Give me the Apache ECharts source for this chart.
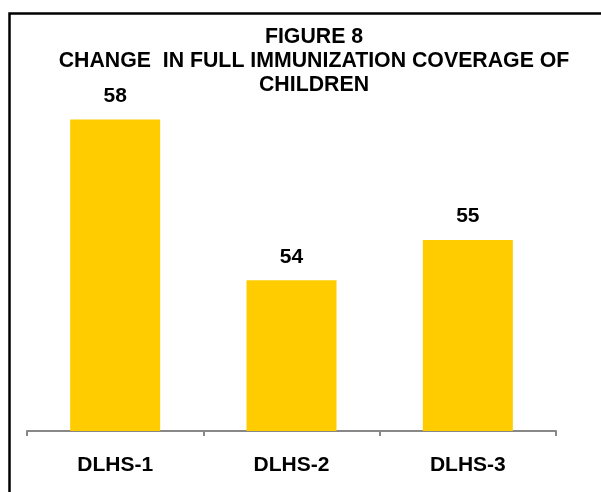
<!DOCTYPE html>
<html>
<head>
<meta charset="utf-8">
<script src="https://cdn.jsdelivr.net/npm/echarts@6/dist/echarts.min.js"></script>
<style>
  html, body { margin: 0; padding: 0; background: #fff; }
  #chart { width: 601px; height: 492px; }
</style>
</head>
<body>
<div id="chart"></div>
<script>
// Survey rounds and full immunization coverage (%)
const categories = ['DLHS-1', 'DLHS-2', 'DLHS-3'];
const coverage = [58, 54, 55];
const titleLines = ['FIGURE 8', 'CHANGE  IN FULL IMMUNIZATION COVERAGE OF', 'CHILDREN'];

const FONT = '"Liberation Sans Narrow", "Liberation Sans", Arial, sans-serif';

const chart = echarts.init(document.getElementById('chart'), null, { renderer: 'canvas' });

chart.setOption({
  backgroundColor: '#ffffff',
  animation: false,
  title: {
    text: titleLines.join('\n'),
    left: 309,
    top: 20,
    textAlign: 'center',
    textStyle: {
      fontFamily: FONT,
      fontSize: 21.3,
      fontWeight: 'bold',
      color: '#000',
      lineHeight: 24
    }
  },
  graphic: [{
    type: 'rect',
    shape: { x: 9.5, y: 13.5, width: 620, height: 520 },
    style: { fill: null, stroke: '#000', lineWidth: 2.5 },
    silent: true
  }],
  grid: { left: 27, right: 45, top: 39, bottom: 61 },
  xAxis: {
    type: 'category',
    data: categories,
    axisLine: { show: true, lineStyle: { color: '#888', width: 2 } },
    axisTick: { show: true, length: 5, lineStyle: { color: '#888', width: 2 } },
    axisLabel: {
      margin: 24,
      fontFamily: FONT,
      fontSize: 21,
      fontWeight: 'bold',
      color: '#000'
    }
  },
  yAxis: {
    type: 'value',
    min: 50.25,
    max: 60,
    show: false,
    splitLine: { show: false }
  },
  series: [{
    type: 'bar',
    data: coverage,
    barWidth: 90,
    itemStyle: { color: '#FFCC00' },
    label: {
      show: true,
      position: 'top',
      distance: 13,
      fontFamily: FONT,
      fontSize: 21,
      fontWeight: 'bold',
      color: '#000'
    }
  }]
});
</script>
</body>
</html>
